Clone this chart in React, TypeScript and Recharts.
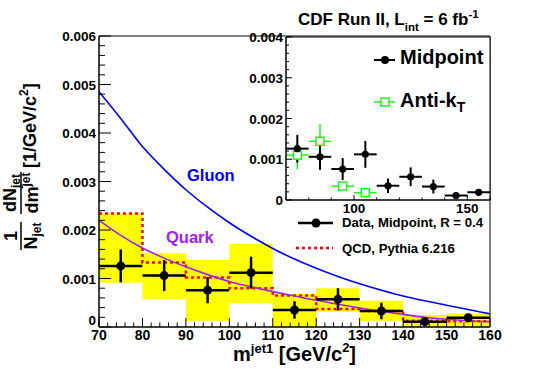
import React from "react"
import { ComposedChart, Line, Scatter, XAxis, YAxis, ReferenceArea, ErrorBar } from "recharts"

// leading-jet mass bins [GeV/c^2]
const binLow = [70, 80, 90, 100, 110, 120, 130, 140, 150]
const binHigh = [80, 90, 100, 110, 120, 130, 140, 150, 160]
const binCenter = [75, 85, 95, 105, 115, 125, 135, 145, 155]

// Data, Midpoint, R = 0.4
const midpoint = [0.00126, 0.00106, 0.00076, 0.00112, 0.00035, 0.00057, 0.00033, 0.00011, 0.00019]
const midpointErr = [0.00034, 0.00032, 0.00027, 0.00033, 0.00018, 0.00023, 0.00017, 0.00005, 0.00008]
// systematic band (yellow)
const sysLow = [0.00091, 0.00057, 0.00013, 0.00049, 0, 0.00032, 0.00013, 0, 0]
const sysHigh = [0.00234, 0.00152, 0.00138, 0.00171, 0.00068, 0.0008, 0.00054, 0.00025, 0.00028]

// QCD, Pythia 6.216
const pythia = [0.00234, 0.00133, 0.00102, 0.0008, 0.00065, 0.00037, 0.00033, 0.00013, 0.00012]

// quark / gluon jet shapes
const curveMass = [70, 75, 80, 85, 90, 95, 100, 105, 110, 115, 120, 125, 130, 135, 140, 145, 150, 155, 160]
const gluon = [0.00485, 0.0043, 0.00372, 0.00325, 0.00283, 0.00247, 0.00215, 0.00187, 0.00162, 0.0014, 0.00121, 0.00104, 0.00089, 0.00076, 0.00064, 0.00054, 0.00045, 0.00036, 0.00027]
const quark = [0.0022, 0.00189, 0.00163, 0.00142, 0.00124, 0.00108, 0.00094, 0.00083, 0.00073, 0.00064, 0.00055, 0.00047, 0.00039, 0.00032, 0.00026, 0.0002, 0.00016, 0.00013, 0.00011]

// Anti-kT (inset)
const antiKtMass = [75, 85, 95, 105]
const antiKt = [0.0011, 0.00144, 0.00034, 0.00018]
const antiKtErr = [0.00035, 0.00042, 0.0001, 0.0001]

// axes
const xMajor = [70, 80, 90, 100, 110, 120, 130, 140, 150, 160]
const yMajor = [0, 0.001, 0.002, 0.003, 0.004, 0.005, 0.006]
const insetYMajor = [0, 0.001, 0.002, 0.003, 0.004]
const insetXLabels = [100, 150]

const FONT = "'Liberation Sans', Arial, Helvetica, sans-serif"
const PURPLE = "#a020f0"
const GREEN = "#22ee22"

const steps = (lo: number, hi: number, step: number) =>
  Array.from({ length: Math.round((hi - lo) / step) + 1 }, (_, i) => +(lo + i * step).toFixed(6))

const near = (list: number[], v: number) => list.some((t) => Math.abs(t - v) < 1e-9)

const dataRows = binCenter.map((m, i) => ({ m, v: midpoint[i], ex: (binHigh[i] - binLow[i]) / 2, ey: midpointErr[i] }))
const antiKtRows = antiKtMass.map((m, i) => ({ m, v: antiKt[i], ex: 5, ey: antiKtErr[i] }))
const pythiaRows = [
  ...binLow.map((m, i) => ({ m, v: pythia[i] })),
  { m: binHigh[binHigh.length - 1], v: pythia[pythia.length - 1] },
]
const gluonRows = curveMass.map((m, i) => ({ m, v: gluon[i] }))
const quarkRows = curveMass.map((m, i) => ({ m, v: quark[i] }))

const yLabel = (v: number) => (v === 0 ? "0" : v.toFixed(3))

function yTick(majors: number[], majorLen: number, minorLen: number, fontSize: number, zeroDy = 5) {
  return (props: any) => {
    const { x, y, payload } = props
    const major = near(majors, payload.value)
    const dy = payload.value === 0 ? zeroDy : 5
    return (
      <g>
        <line x1={x} y1={y} x2={x + (major ? majorLen : minorLen)} y2={y} stroke="#000" />
        {major && (
          <text x={x - 3} y={y + dy} textAnchor="end" fontFamily={FONT} fontWeight="bold" fontSize={fontSize} fill="#000">
            {yLabel(payload.value)}
          </text>
        )}
      </g>
    )
  }
}

function xTick(labels: number[], majors: number[], majorLen: number, minorLen: number, dy: number, fontSize: number) {
  return (props: any) => {
    const { x, y, payload } = props
    const major = near(majors, payload.value)
    return (
      <g>
        <line x1={x} y1={y} x2={x} y2={y - (major ? majorLen : minorLen)} stroke="#000" />
        {near(labels, payload.value) && (
          <text x={x} y={y + dy} textAnchor="middle" fontFamily={FONT} fontWeight="bold" fontSize={fontSize} fill="#000">
            {payload.value}
          </text>
        )}
      </g>
    )
  }
}

const dot = (r: number) => (p: any) => <circle cx={p.cx} cy={p.cy} r={r} fill="#000" />
const openSquare = (p: any) => (
  <rect x={p.cx - 4} y={p.cy - 4} width={8} height={8} fill="#fff" stroke={GREEN} strokeWidth={1.5} />
)

function MainChart() {
  return (
    <ComposedChart
      width={545}
      height={369}
      margin={{ top: 36, right: 55, bottom: 41, left: 98 }}
      style={{ position: "absolute", left: 0, top: 0 }}
    >
      {binLow.map((lo, i) => (
        <ReferenceArea key={lo} x1={lo} x2={binHigh[i]} y1={sysLow[i]} y2={sysHigh[i]} fill="#ffff00" fillOpacity={1} stroke="none" />
      ))}
      <ReferenceArea x1={70} x2={160} y1={0} y2={0.006} fill="none" stroke="#000" />
      <XAxis
        type="number"
        dataKey="m"
        domain={[70, 160]}
        allowDataOverflow
        ticks={steps(70, 160, 2)}
        interval={0}
        height={1}
        tickSize={0}
        tickMargin={0}
        tickLine={false}
        axisLine={{ stroke: "#000" }}
        tick={xTick(xMajor, xMajor, 9, 4.5, 13, 14)}
      />
      <YAxis
        type="number"
        domain={[0, 0.006]}
        allowDataOverflow
        ticks={steps(0, 0.006, 0.0002)}
        interval={0}
        width={1}
        tickSize={0}
        tickMargin={0}
        tickLine={false}
        axisLine={{ stroke: "#000" }}
        tick={yTick(yMajor, 12, 6, 13.5, -2)}
      />
      <Line data={pythiaRows} dataKey="v" type="stepAfter" stroke="#ff0000" strokeWidth={2.5} strokeDasharray="3 3" dot={false} isAnimationActive={false} />
      <Line data={gluonRows} dataKey="v" type="monotone" stroke="#0000ff" strokeWidth={1.6} dot={false} isAnimationActive={false} />
      <Line data={quarkRows} dataKey="v" type="monotone" stroke={PURPLE} strokeWidth={1.6} dot={false} isAnimationActive={false} />
      <Scatter data={dataRows} dataKey="v" shape={dot(4.5)} isAnimationActive={false}>
        <ErrorBar dataKey="ex" direction="x" width={0} stroke="#000" strokeWidth={2.5} />
        <ErrorBar dataKey="ey" direction="y" width={0} stroke="#000" strokeWidth={2.5} />
      </Scatter>
    </ComposedChart>
  )
}

function InsetChart() {
  return (
    <ComposedChart
      width={545}
      height={369}
      margin={{ top: 37, right: 55, bottom: 168, left: 285 }}
      style={{ position: "absolute", left: 0, top: 0 }}
    >
      <ReferenceArea x1={70} x2={160} y1={0} y2={0.004} fill="none" stroke="#000" />
      <XAxis
        type="number"
        dataKey="m"
        domain={[70, 160]}
        allowDataOverflow
        ticks={steps(70, 160, 10)}
        interval={0}
        height={1}
        tickSize={0}
        tickMargin={0}
        tickLine={false}
        axisLine={{ stroke: "#000" }}
        tick={xTick(insetXLabels, insetXLabels, 5, 2.5, 13, 13.5)}
      />
      <YAxis
        type="number"
        domain={[0, 0.004]}
        allowDataOverflow
        ticks={steps(0, 0.004, 0.0002)}
        interval={0}
        width={1}
        tickSize={0}
        tickMargin={0}
        tickLine={false}
        axisLine={{ stroke: "#000" }}
        tick={yTick(insetYMajor, 6, 3, 13.5)}
      />
      <Scatter data={antiKtRows} dataKey="v" shape={openSquare} isAnimationActive={false}>
        <ErrorBar dataKey="ex" direction="x" width={0} stroke={GREEN} strokeWidth={1.5} />
        <ErrorBar dataKey="ey" direction="y" width={0} stroke={GREEN} strokeWidth={1.5} />
      </Scatter>
      <Scatter data={dataRows} dataKey="v" shape={dot(3.6)} isAnimationActive={false}>
        <ErrorBar dataKey="ex" direction="x" width={0} stroke="#000" strokeWidth={2} />
        <ErrorBar dataKey="ey" direction="y" width={0} stroke="#000" strokeWidth={2} />
      </Scatter>
    </ComposedChart>
  )
}

function Overlay() {
  const t = { fontFamily: FONT, fontWeight: "bold" as const, fill: "#000" }
  return (
    <svg width={545} height={369} style={{ position: "absolute", left: 0, top: 0, pointerEvents: "none" }}>
      {/* y title */}
      <g {...t} fontSize={18}>
        <text transform="translate(17,236) rotate(-90)" textAnchor="middle">1</text>
        <line x1={21} y1={250} x2={21} y2={222} stroke="#000" strokeWidth={1.5} />
        <text transform="translate(37,236) rotate(-90)" textAnchor="middle">
          N<tspan fontSize={12} dy={4}>jet</tspan>
        </text>
        <text transform="translate(16,193) rotate(-90)" textAnchor="middle">
          dN<tspan fontSize={12} dy={4}>jet</tspan>
        </text>
        <line x1={21} y1={214} x2={21} y2={172} stroke="#000" strokeWidth={1.5} />
        <text transform="translate(38,193) rotate(-90)" textAnchor="middle">
          dm<tspan fontSize={12} dy={-8}>jet</tspan>
        </text>
        <text transform="translate(36,168) rotate(-90)">
          [1/GeV/c<tspan fontSize={12} dy={-8}>2</tspan>
          <tspan dy={8}>]</tspan>
        </text>
      </g>
      {/* x title */}
      <text x={233} y={361} {...t} fontSize={20}>
        m<tspan fontSize={13} dy={-8}>jet1</tspan>
        <tspan dy={8}> [GeV/c</tspan>
        <tspan fontSize={13} dy={-9}>2</tspan>
        <tspan dy={9}>]</tspan>
      </text>
      {/* curve labels */}
      <text x={187} y={181} {...t} fill="#0000ff" fontSize={16.5}>Gluon</text>
      <text x={166} y={243} {...t} fill={PURPLE} fontSize={16.5}>Quark</text>
      {/* title */}
      <text x={298} y={25} {...t} fontSize={17}>
        CDF Run II, L<tspan fontSize={11.5} dy={6}>int</tspan>
        <tspan dy={-6}> = 6 fb</tspan>
        <tspan fontSize={11.5} dy={-7}>-1</tspan>
      </text>
      {/* inset legend */}
      <line x1={374} y1={60} x2={395} y2={60} stroke="#000" strokeWidth={2} />
      <circle cx={385} cy={60} r={4} fill="#000" />
      <text x={400} y={64} {...t} fontSize={20}>Midpoint</text>
      <line x1={374} y1={102} x2={395} y2={102} stroke={GREEN} strokeWidth={1.5} />
      <rect x={381} y={98} width={8} height={8} fill="#fff" stroke={GREEN} strokeWidth={1.5} />
      <text x={400} y={107} {...t} fontSize={20}>
        Anti-k<tspan fontSize={14} dy={5}>T</tspan>
      </text>
      {/* lower legend */}
      <line x1={298} y1={223} x2={333} y2={223} stroke="#000" strokeWidth={2.5} />
      <circle cx={316} cy={223} r={4.5} fill="#000" />
      <text x={342} y={227} {...t} fontSize={13.2}>Data, Midpoint, R = 0.4</text>
      <line x1={296} y1={248} x2={333} y2={248} stroke="#ff0000" strokeWidth={2.5} strokeDasharray="3 3" />
      <text x={342} y={253} {...t} fontSize={13.2}>QCD, Pythia 6.216</text>
    </svg>
  )
}

export default function App() {
  return (
    <div style={{ position: "absolute", left: 0, top: 0, width: 545, height: 369, background: "#fff" }}>
      <MainChart />
      <div style={{ position: "absolute", left: 286, top: 37, width: 204, height: 163, background: "#fff" }} />
      <InsetChart />
      <Overlay />
    </div>
  )
}
